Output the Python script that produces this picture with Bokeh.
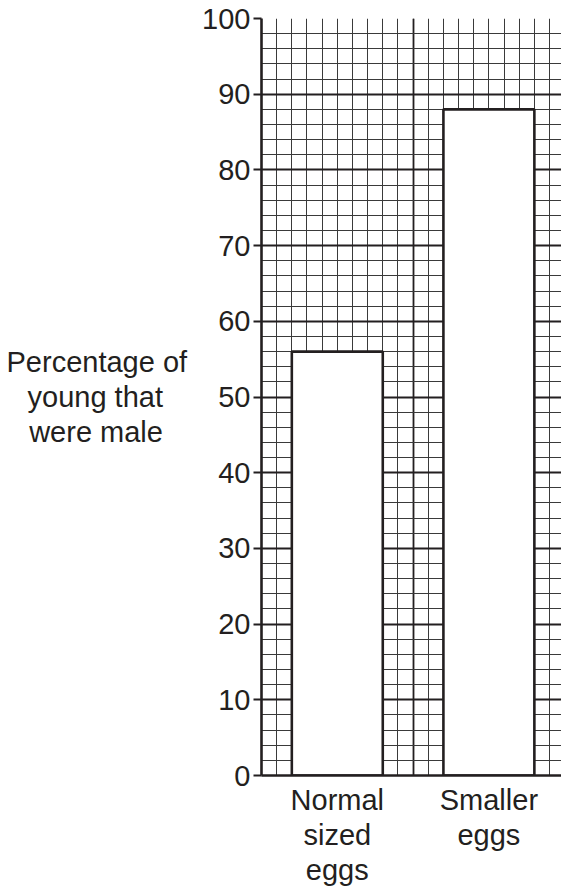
from bokeh.plotting import figure
from bokeh.models import SingleIntervalTicker, FixedTicker, Range1d
from bokeh.embed import file_html
from bokeh.resources import INLINE

categories = ["Normal\nsized\neggs", "Smaller\neggs"]
values = [56, 88]
y_label_lines = ["Percentage of", "young that", "were male"]

positions = [5 + 10 * i for i in range(len(categories))]

FONT = "Liberation Sans"
FS = "29px"
INK = "#231f20"
NBSP = "\u00a0"

p = figure(width=561, height=891, output_backend="svg", toolbar_location=None,
           x_range=Range1d(0, 19.79), y_range=Range1d(0, 100),
           min_border_left=261, min_border_right=0, min_border_top=18,
           min_border_bottom=116)
p.outline_line_color = None
p.background_fill_color = "white"
p.border_fill_color = "white"

p.vbar(x=positions, top=values, width=6, bottom=0, fill_color="white",
       line_color=INK, line_width=2.6)

# y axis
ya = p.yaxis[0]
ya.ticker = SingleIntervalTicker(interval=10, num_minor_ticks=5)
ya.axis_line_color = INK
ya.axis_line_width = 2.6
ya.major_tick_in = 0
ya.major_tick_out = 8
ya.major_tick_line_width = 2
ya.major_tick_line_color = INK
ya.minor_tick_line_color = None
ya.major_label_text_font = FONT
ya.major_label_text_font_size = FS
ya.major_label_text_color = INK
ya.major_label_standoff = 3

# horizontal multi-line axis title; shorter lines padded so they sit centred
pad = [0, 3, 3]
ya.axis_label = "\n".join(t + NBSP * n for t, n in zip(y_label_lines, pad))
ya.axis_label_orientation = "horizontal"
ya.axis_label_text_font = FONT
ya.axis_label_text_font_size = FS
ya.axis_label_text_font_style = "normal"
ya.axis_label_text_color = INK
ya.axis_label_text_line_height = 1.08
ya.axis_label_standoff = 12

# x axis
xa = p.xaxis[0]
xa.ticker = FixedTicker(ticks=positions)
xa.major_label_overrides = {pos: lab for pos, lab in zip(positions, categories)}
xa.axis_line_color = INK
xa.axis_line_width = 2.6
xa.major_tick_line_color = None
xa.minor_tick_line_color = None
xa.major_label_text_font = FONT
xa.major_label_text_font_size = FS
xa.major_label_text_color = INK
xa.major_label_text_line_height = 1.1
xa.major_label_standoff = 2

# grids
p.xgrid[0].ticker = SingleIntervalTicker(interval=10, num_minor_ticks=10)
p.ygrid[0].ticker = SingleIntervalTicker(interval=10, num_minor_ticks=5)
for g in (p.xgrid[0], p.ygrid[0]):
    g.grid_line_color = INK
    g.grid_line_width = 1.8
    g.grid_line_alpha = 1.0
    g.minor_grid_line_color = "#3a3a3a"
    g.minor_grid_line_width = 1.0

open("out.html", "w").write(file_html(p, INLINE))
